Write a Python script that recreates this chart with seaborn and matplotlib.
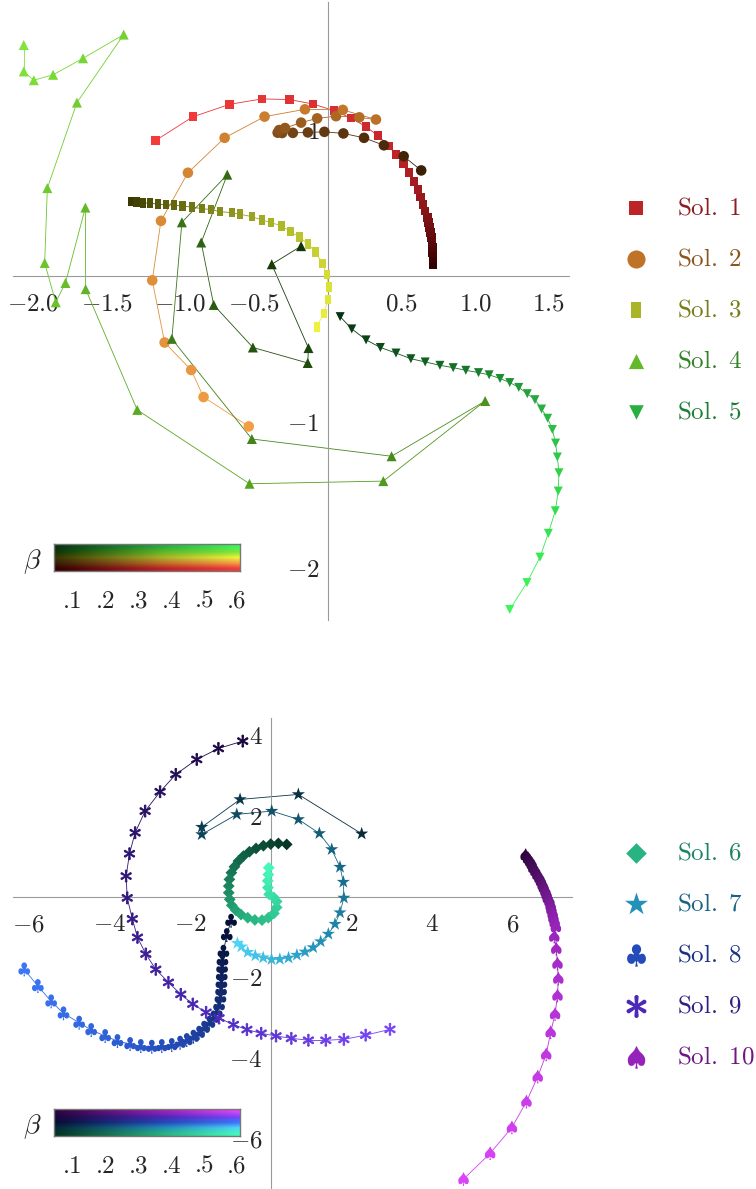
import numpy as np
import matplotlib
matplotlib.use("Agg")
import matplotlib.pyplot as plt
from matplotlib.colors import LinearSegmentedColormap, Normalize
from matplotlib.collections import LineCollection
from matplotlib.markers import MarkerStyle
from matplotlib.path import Path
from matplotlib.ticker import FixedLocator, MultipleLocator, FixedFormatter
import seaborn as sns

sns.set_theme(style="white")
plt.rcParams['mathtext.fontset'] = 'cm'
plt.rcParams['font.family'] = ['DejaVu Serif']

# ---------------- datos, de beta pequeno a beta grande ----------------
sol1_x = [0.713, 0.713, 0.711, 0.709, 0.707, 0.704, 0.698, 0.691, 0.684, 0.675, 0.661, 0.646, 0.630,
          0.612, 0.585, 0.551, 0.515, 0.463, 0.413, 0.341, 0.260, 0.158, 0.043, -0.099, -0.260,
          -0.447, -0.667, -0.915, -1.168]
sol1_y = [0.080, 0.126, 0.161, 0.195, 0.229, 0.264, 0.298, 0.333, 0.367, 0.401, 0.443, 0.489, 0.539,
          0.592, 0.647, 0.709, 0.766, 0.830, 0.890, 0.959, 1.021, 1.080, 1.131, 1.176, 1.207,
          1.211, 1.174, 1.089, 0.927]

sol2_x = [0.634, 0.515, 0.381, 0.246, 0.106, -0.023, -0.135, -0.237, -0.310, -0.340, -0.330, -0.290,
          -0.181, -0.072, 0.056, 0.214, 0.327, 0.102, -0.155, -0.429, -0.700, -0.949, -1.132, -1.191,
          -1.107, -0.927, -0.843, -0.536]
sol2_y = [0.722, 0.819, 0.894, 0.945, 0.975, 0.986, 0.982, 0.979, 0.978, 0.980, 0.998, 1.012,
          1.049, 1.078, 1.093, 1.085, 1.070, 1.136, 1.140, 1.090, 0.945, 0.706, 0.377, -0.030,
          -0.455, -0.643, -0.828, -1.029]

sol3_x = [-1.333, -1.299, -1.254, -1.205, -1.153, -1.096, -1.044, -0.985, -0.920, -0.854, -0.791,
          -0.730, -0.651, -0.594, -0.515, -0.447, -0.384, -0.314, -0.253, -0.192, -0.133, -0.084,
          -0.036, -0.007, 0.007, 0.002, -0.027, -0.075]
sol3_y = [0.509, 0.507, 0.500, 0.498, 0.491, 0.489, 0.484, 0.479, 0.470, 0.461, 0.454,
          0.440, 0.433, 0.422, 0.406, 0.383, 0.365, 0.342, 0.303, 0.266, 0.218, 0.165,
          0.085, 0.009, -0.076, -0.160, -0.256, -0.348]

sol4_x = [-0.181, -0.380, -0.131, -0.136, -0.508, -0.774, -0.859, -0.682, -0.990, -1.058, -0.515,
          0.433, 1.068, 0.377, -0.531, -1.293, -1.643, -1.645, -1.780, -1.846, -1.921, -1.903,
          -1.702, -1.385, -1.661, -1.864, -1.995, -2.063, -2.063]
sol4_y = [0.204, 0.080, -0.493, -0.595, -0.489, -0.198, 0.229, 0.693, 0.367, -0.430, -1.115,
          -1.233, -0.855, -1.403, -1.421, -0.916, -0.090, 0.468, -0.048, -0.180, 0.089, 0.601,
          1.186, 1.651, 1.489, 1.376, 1.339, 1.399, 1.580]

sol5_x = [0.084, 0.163, 0.260, 0.357, 0.463, 0.564, 0.661, 0.761, 0.851, 0.937, 1.023, 1.095, 1.169,
          1.235, 1.296, 1.354, 1.406, 1.451, 1.492, 1.524, 1.546, 1.558, 1.569, 1.564, 1.544,
          1.497, 1.440, 1.352, 1.235]
sol5_y = [-0.278, -0.362, -0.437, -0.489, -0.527, -0.566, -0.588, -0.611, -0.627, -0.645, -0.661,
          -0.676, -0.701, -0.729, -0.762, -0.805, -0.846, -0.910, -0.973, -1.050, -1.143, -1.238,
          -1.346, -1.471, -1.606, -1.760, -1.923, -2.097, -2.281]

sol6_x = [0.396, 0.190, 0.000, -0.182, -0.364, -0.529, -0.677, -0.801, -0.900, -0.975, -1.024, -1.041,
          -1.041, -1.016, -0.966, -0.865, -0.737, -0.570, -0.393, -0.216, -0.059, 0.079, 0.147,
          0.147, 0.079, -0.039, -0.069, -0.074, -0.059, -0.049]
sol6_y = [1.297, 1.322, 1.305, 1.264, 1.197, 1.115, 1.008, 0.884, 0.743, 0.595, 0.430, 0.264,
          0.099, -0.066, -0.214, -0.334, -0.442, -0.521, -0.575, -0.580, -0.521, -0.413, -0.265,
          -0.118, -0.020, 0.059, 0.226, 0.393, 0.550, 0.718]

sol7_x = [2.255, 0.685, -0.760, -1.709, -1.709, -0.842, 0.025, 0.685, 1.206, 1.512, 1.718, 1.801,
          1.814, 1.718, 1.594, 1.429, 1.239, 1.052, 0.851, 0.649, 0.442, 0.226, 0.020, -0.187,
          -0.383, -0.570, -0.727, -0.826]
sol7_y = [1.561, 2.536, 2.412, 1.726, 1.544, 2.041, 2.123, 1.917, 1.570, 1.173, 0.735, 0.364,
          -0.029, -0.393, -0.678, -0.924, -1.111, -1.258, -1.366, -1.445, -1.514, -1.548, -1.553,
          -1.509, -1.460, -1.376, -1.239, -1.150]

sol8_x = [-0.983, -1.090, -1.173, -1.197, -1.206, -1.214, -1.223, -1.231, -1.247, -1.281, -1.338,
          -1.420, -1.520, -1.652, -1.776, -1.917, -2.082, -2.247, -2.454, -2.701, -2.949, -3.221,
          -3.486, -3.800, -4.105, -4.452, -4.750, -5.138, -5.444, -5.774, -6.112]
sol8_y = [-0.595, -0.950, -1.363, -1.570, -1.752, -1.941, -2.131, -2.313, -2.495, -2.685, -2.850,
          -2.998, -3.122, -3.247, -3.371, -3.469, -3.552, -3.618, -3.675, -3.701, -3.718, -3.701,
          -3.651, -3.577, -3.453, -3.304, -3.122, -2.891, -2.594, -2.214, -1.801]

sol9_x = [-0.694, -1.297, -1.834, -2.354, -2.743, -3.114, -3.362, -3.502, -3.585, -3.558, -3.431,
          -3.304, -3.097, -2.850, -2.536, -2.230, -1.933, -1.602, -1.281, -0.925, -0.590, -0.236,
          0.132, 0.511, 0.934, 1.366, 1.814, 2.354, 2.957]
sol9_y = [3.857, 3.675, 3.403, 3.032, 2.602, 2.123, 1.586, 1.066, 0.512, -0.029, -0.550,
          -1.008, -1.420, -1.801, -2.123, -2.420, -2.660, -2.866, -3.007, -3.172, -3.293, -3.386,
          -3.453, -3.510, -3.558, -3.558, -3.536, -3.431, -3.288]

sol10_x = [6.32, 6.38, 6.43, 6.47, 6.51, 6.56, 6.61, 6.66, 6.70, 6.74, 6.77, 6.81, 6.84, 6.87, 6.91,
           6.94, 6.96, 6.99, 7.01, 7.04, 7.07, 7.03, 7.08, 7.11, 7.13, 7.11, 7.05, 6.94, 6.83,
           6.62, 6.34, 5.98, 5.44, 4.78]
sol10_y = [1.03, 0.95, 0.88, 0.81, 0.72, 0.64, 0.55, 0.47, 0.39, 0.30, 0.23, 0.14, 0.06, -0.03, -0.11,
           -0.22, -0.31, -0.42, -0.52, -0.63, -0.75, -0.99, -1.29, -1.66, -2.03, -2.45, -2.91, -3.36,
           -3.91, -4.46, -5.08, -5.72, -6.36, -7.00]

etiquetas_arriba = ['Sol. 1', 'Sol. 2', 'Sol. 3', 'Sol. 4', 'Sol. 5']
etiquetas_abajo = ['Sol. 6', 'Sol. 7', 'Sol. 8', 'Sol. 9', 'Sol. 10']
ticks_beta = [0.1, 0.2, 0.3, 0.4, 0.5, 0.6]
etiquetas_beta = ['.1', '.2', '.3', '.4', '.5', '.6']

# colores: oscuro (beta chico), medio (leyenda), claro (beta grande), texto
colores = {
    1: [(50, 0, 0), (190, 35, 40), (245, 60, 60), (140, 30, 35)],
    2: [(55, 30, 5), (190, 115, 40), (245, 160, 70), (140, 85, 30)],
    3: [(55, 55, 0), (170, 180, 40), (240, 245, 60), (120, 125, 25)],
    4: [(15, 50, 5), (100, 185, 40), (130, 230, 60), (50, 130, 40)],
    5: [(5, 50, 15), (40, 175, 65), (60, 250, 90), (30, 125, 55)],
    6: [(5, 50, 35), (40, 180, 130), (70, 250, 190), (30, 130, 100)],
    7: [(5, 40, 55), (35, 145, 185), (80, 215, 250), (25, 100, 130)],
    8: [(5, 15, 50), (35, 75, 185), (60, 120, 250), (25, 50, 130)],
    9: [(25, 5, 60), (75, 40, 185), (120, 70, 250), (50, 30, 130)],
    10: [(45, 5, 60), (150, 35, 185), (220, 70, 250), (110, 25, 130)],
}

B_MIN, B_MAX = 0.042, 0.609
norm = Normalize(B_MIN, B_MAX)


def rgb(c):
    return tuple(v / 255 for v in c)


cmaps = {k: LinearSegmentedColormap.from_list(f'sol{k}', [(0, rgb(v[0])), (0.6, rgb(v[1])), (1, rgb(v[2]))])
         for k, v in colores.items()}

# marcador rectangular alto para Sol. 3
rect = MarkerStyle(Path([(-0.33, -0.5), (0.33, -0.5), (0.33, 0.5), (-0.33, 0.5), (-0.33, -0.5)],
                        [Path.MOVETO, Path.LINETO, Path.LINETO, Path.LINETO, Path.CLOSEPOLY]))

# (x, y, marcador, tamano en grafico, tamano en leyenda, grosor de borde)
series = {
    1: (sol1_x, sol1_y, 's', 38, 100, 0),
    2: (sol2_x, sol2_y, 'o', 58, 170, 0),
    3: (sol3_x, sol3_y, rect, 48, 120, 0),
    4: (sol4_x, sol4_y, '^', 52, 120, 0),
    5: (sol5_x, sol5_y, 'v', 42, 110, 0),
    6: (sol6_x, sol6_y, 'D', 36, 110, 0),
    7: (sol7_x, sol7_y, '*', 100, 300, 0),
    8: (sol8_x, sol8_y, r'$\clubsuit$', 100, 260, 0),
    9: (sol9_x, sol9_y, r'$\ast$', 75, 240, 0.7),
    10: (sol10_x, sol10_y, r'$\spadesuit$', 95, 260, 0),
}

fig = plt.figure(figsize=(7.56, 11.89), dpi=100)
W, H = 756, 1189


def px_rect(x0, y0, x1, y1):
    return [x0 / W, 1 - y1 / H, (x1 - x0) / W, (y1 - y0) / H]


def dibujar(ax, k):
    x, y, m, s, _, lw = series[k]
    beta = np.linspace(0.05, 0.6, len(x))
    pts = np.column_stack([x, y])
    segs = np.stack([pts[:-1], pts[1:]], axis=1)
    lc = LineCollection(segs, colors=cmaps[k](norm((beta[:-1] + beta[1:]) / 2)), linewidths=0.6, zorder=2)
    ax.add_collection(lc)
    sns.scatterplot(x=x, y=y, hue=beta, palette=cmaps[k], hue_norm=norm, marker=m, s=s,
                    linewidth=lw, edgecolor='face', legend=False, ax=ax, zorder=3)


def ejes(ax, xlim, ylim, xmaj, xlab, xmin, ymaj, ylab, ymin):
    ax.set_xlim(xlim)
    ax.set_ylim(ylim)
    for s in ['top', 'right']:
        ax.spines[s].set_visible(False)
    for s in ['left', 'bottom']:
        ax.spines[s].set_position(('data', 0))
        ax.spines[s].set_color('#9a9a9a')
        ax.spines[s].set_linewidth(0.8)
    ax.xaxis.set_major_locator(FixedLocator(xmaj))
    ax.xaxis.set_major_formatter(FixedFormatter(['$' + t + '$' for t in xlab]))
    ax.yaxis.set_major_locator(FixedLocator(ymaj))
    ax.yaxis.set_major_formatter(FixedFormatter(['$' + t + '$' for t in ylab]))
    ax.xaxis.set_minor_locator(MultipleLocator(xmin))
    ax.yaxis.set_minor_locator(MultipleLocator(ymin))
    ax.tick_params(which='both', direction='in', color='#9a9a9a', width=0.6, labelsize=18)
    ax.tick_params(which='major', length=3.5)
    ax.tick_params(which='minor', length=2)
    ax.tick_params(axis='x', pad=12)
    ax.tick_params(axis='y', pad=6)
    ax.set_xlabel('')
    ax.set_ylabel('')
    ax.grid(False)
    ax.patch.set_alpha(0)


def barra(rect_px, ks, ypos):
    cax = fig.add_axes(px_rect(*rect_px))
    grad = np.linspace(0, 1, 256)
    img = np.array([cmaps[k](grad)[:, :3] for k in ks])
    cax.imshow(img, aspect='auto', extent=(B_MIN, B_MAX, 0, len(ks)), interpolation='bilinear')
    cax.set_yticks([])
    cax.set_xticks(ticks_beta)
    cax.set_xticklabels(etiquetas_beta, fontfamily='cmr10')
    cax.tick_params(axis='x', length=0, pad=14, labelsize=18)
    for s in cax.spines.values():
        s.set_color('#777777')
        s.set_linewidth(1.0)
    fig.text(32 / W, 1 - ypos / H, r'$\beta$', fontsize=20, ha='center', va='center')


# ---------------- grafico superior ----------------
ax1 = fig.add_axes(px_rect(13, 2, 569, 620))
for k in [1, 2, 3, 4, 5]:
    dibujar(ax1, k)
ejes(ax1, (-2.136, 1.637), (-2.353, 1.874),
     [-2, -1.5, -1, -0.5, 0.5, 1, 1.5], ['-2.0', '-1.5', '-1.0', '-0.5', '0.5', '1.0', '1.5'], 0.1,
     [-2, -1, 1], ['-2', '-1', '1'], 0.2)
barra((54, 544, 240, 571), [5, 4, 3, 2, 1], 562)

# ---------------- grafico inferior ----------------
ax2 = fig.add_axes(px_rect(13, 718, 572, 1188))
for k in [6, 7, 8, 9, 10]:
    dibujar(ax2, k)
ejes(ax2, (-6.39, 7.47), (-7.22, 4.43),
     [-6, -4, -2, 2, 4, 6], ['-6', '-4', '-2', '2', '4', '6'], 0.5,
     [-6, -4, -2, 2, 4], ['-6', '-4', '-2', '2', '4'], 0.5)
barra((54, 1109, 240, 1136), [10, 9, 8, 7, 6], 1127)

# ---------------- leyendas ----------------
lax = fig.add_axes([0, 0, 1, 1])
lax.set_xlim(0, W)
lax.set_ylim(H, 0)
lax.axis('off')
for etiquetas, ks, y0 in [(etiquetas_arriba, [1, 2, 3, 4, 5], 208), (etiquetas_abajo, [6, 7, 8, 9, 10], 853)]:
    for i, (lab, k) in enumerate(zip(etiquetas, ks)):
        yy = y0 + 51 * i
        lax.scatter([636], [yy], marker=series[k][2], s=series[k][4], color=rgb(colores[k][1]),
                    linewidths=series[k][5] * 1.5, edgecolors='face')
        num = lab.split(' ')[1]
        lax.text(677, yy, r'$\mathrm{Sol.\ ' + num + '}$', fontsize=18, color=rgb(colores[k][3]),
                 ha='left', va='center')

plt.savefig('out.png', dpi=100)
plt.close()
print("Grafico guardado.")
